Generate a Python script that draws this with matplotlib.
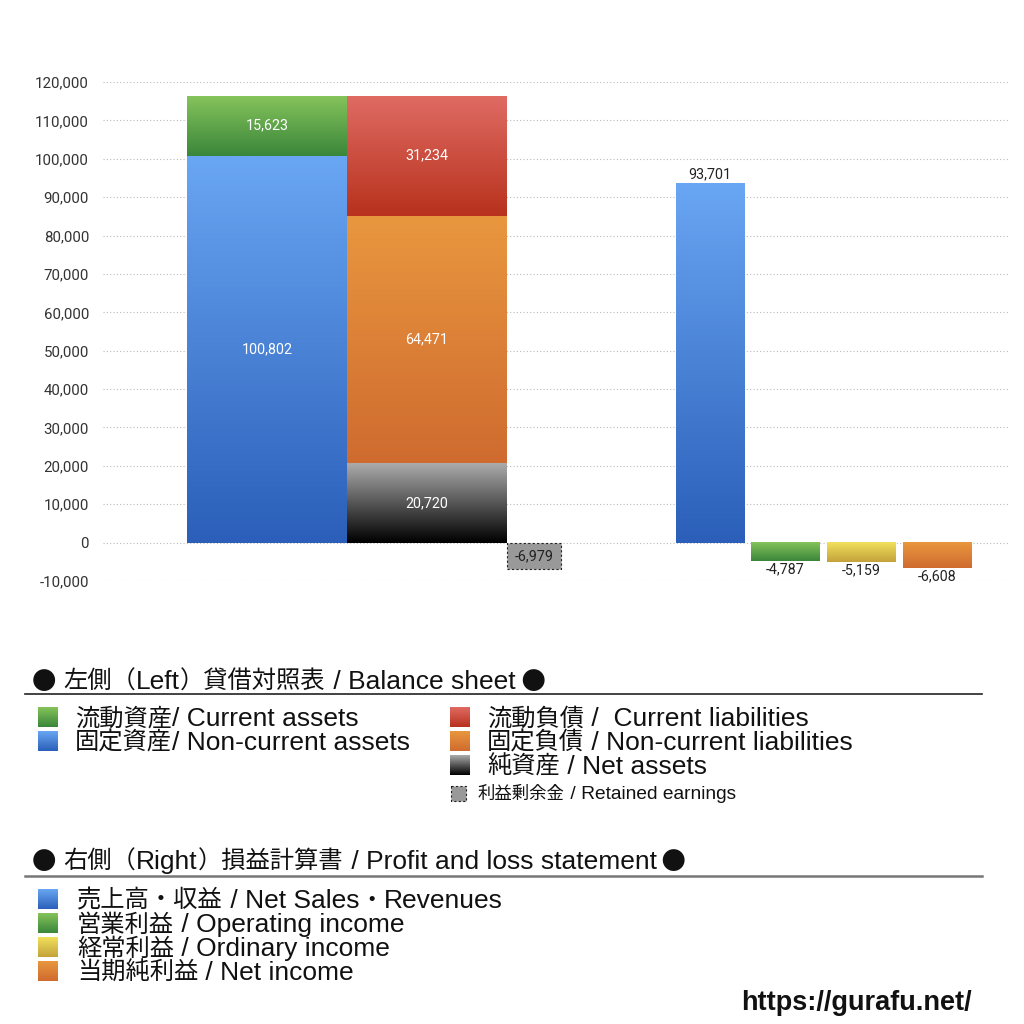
import numpy as np
import matplotlib.pyplot as plt
from matplotlib.colors import to_rgb
from matplotlib.patches import Rectangle

plt.rcParams['font.family'] = ['Liberation Sans', 'Noto Sans CJK JP', 'DejaVu Sans']

# 左側 貸借対照表 / balance sheet
current_assets = 15623
noncurrent_assets = 100802
current_liabilities = 31234
noncurrent_liabilities = 64471
net_assets = 20720
retained_earnings = -6979

# 右側 損益計算書 / profit and loss
pl_values = [93701, -4787, -5159, -6608]

bs_left_labels = ["流動資産/ Current assets", "固定資産/ Non-current assets"]
bs_right_labels = ["流動負債 /  Current liabilities", "固定負債 / Non-current liabilities",
                   "純資産 / Net assets"]
retained_label = "利益剰余金 / Retained earnings"
pl_labels = ["売上高・収益 / Net Sales・Revenues", "営業利益 / Operating income",
             "経常利益 / Ordinary income", "当期純利益 / Net income"]
head_bs = "● 左側（Left）貸借対照表 / Balance sheet ●"
head_pl = "● 右側（Right）損益計算書 / Profit and loss statement ●"

yticks = np.arange(-10000, 120001, 10000)

# colours (top, bottom) of the gradients
BLUE = ("#69a6f3", "#2b5fb9")
GREEN = ("#85c35b", "#3a863a")
RED = ("#df6b63", "#b8321d")
ORANGE = ("#e9973f", "#cf6b2f")
BLACK = ("#ababab", "#000000")
YELLOW = ("#f1e05c", "#c3a23b")
NUM_FONT = 'Roboto'


def grad_rect(ax, x0, x1, y0, y1, cols, z=3):
    c = np.linspace(0, 1, 128)[:, None, None]
    img = np.array(to_rgb(cols[1])) * (1 - c) + np.array(to_rgb(cols[0])) * c
    ax.imshow(img, extent=(x0, x1, y0, y1), origin='lower', aspect='auto',
              zorder=z, interpolation='bilinear')


fig = plt.figure(figsize=(10.24, 10.24), dpi=100)
ax = fig.add_axes([103 / 1024, 1 - 581 / 1024, 907 / 1024, 499 / 1024])
ax.set_xlim(0, 907)
ax.set_ylim(-10000, 120000)

# left stacked bars
w = 160
xa, xl = 164, 324
grad_rect(ax, xa - w / 2, xa + w / 2, 0, noncurrent_assets, BLUE)
grad_rect(ax, xa - w / 2, xa + w / 2, noncurrent_assets, noncurrent_assets + current_assets, GREEN)
grad_rect(ax, xl - w / 2, xl + w / 2, 0, net_assets, BLACK)
grad_rect(ax, xl - w / 2, xl + w / 2, net_assets, net_assets + noncurrent_liabilities, ORANGE)
top_l = net_assets + noncurrent_liabilities
grad_rect(ax, xl - w / 2, xl + w / 2, top_l, top_l + current_liabilities, RED)

lbl = dict(ha='center', va='center', color='white', fontsize=10.3, zorder=5, family=NUM_FONT)
ax.text(xa, noncurrent_assets / 2, f"{noncurrent_assets:,}", **lbl)
ax.text(xa, noncurrent_assets + current_assets / 2, f"{current_assets:,}", **lbl)
ax.text(xl, net_assets / 2, f"{net_assets:,}", **lbl)
ax.text(xl, net_assets + noncurrent_liabilities / 2, f"{noncurrent_liabilities:,}", **lbl)
ax.text(xl, top_l + current_liabilities / 2, f"{current_liabilities:,}", **lbl)

# retained earnings
xr, wr = 431, 54
ax.add_patch(Rectangle((xr - wr / 2, retained_earnings), wr, -retained_earnings,
                       facecolor="#999999", edgecolor="#222222", linestyle=(0, (2, 2)),
                       linewidth=0.8, zorder=4))
ax.text(xr, retained_earnings / 2, f"{retained_earnings:,}", ha='center', va='center',
        fontsize=10.3, color='#222222', zorder=5, family=NUM_FONT)

# right bars
pl_x = [607, 682.5, 758.5, 834.5]
pl_cols = [BLUE, GREEN, YELLOW, ORANGE]
wp = 69
for x, v, cols in zip(pl_x, pl_values, pl_cols):
    grad_rect(ax, x - wp / 2, x + wp / 2, min(0, v), max(0, v), cols)
    if v > 0:
        ax.text(x, v + 300, f"{v:,}", ha='center', va='bottom', fontsize=10.3,
                color='#222222', family=NUM_FONT)
    else:
        ax.text(x, v - 300, f"{v:,}", ha='center', va='top', fontsize=10.3,
                color='#222222', family=NUM_FONT)

ax.set_yticks(yticks)
ax.set_yticklabels([f"{t:,}" for t in yticks], fontsize=10.8, color='#333333',
                   family=NUM_FONT)
ax.set_xticks([])
ax.tick_params(axis='y', length=0, pad=10)
ax.grid(axis='y', color='#bbbbbb', linestyle=(0, (1, 2)), linewidth=0.8, zorder=0)
ax.set_axisbelow(True)
for s in ax.spines.values():
    s.set_visible(False)

# legend drawn in pixel coordinates on an overlay axes
ov = fig.add_axes([0, 0, 1, 1])
ov.axis('off')
ov.set_xlim(0, 1024)
ov.set_ylim(1024, 0)
renderer = fig.canvas.get_renderer()


def mixed_text(x, y, s, cjk_size, lat_size, **kw):
    # latin letters in a wider face, japanese in Noto, drawn run after run
    runs = []
    for ch in s:
        lat = ord(ch) < 128
        if runs and runs[-1][0] == lat:
            runs[-1][1] += ch
        else:
            runs.append([lat, ch])
    for i in range(len(runs) - 1):
        body = runs[i][1].rstrip(' ')
        n = len(runs[i][1]) - len(body)
        if n and body:
            runs[i][1] = body
            runs[i + 1][1] = ' ' * n + runs[i + 1][1]
    inv = ov.transData.inverted()
    for lat, txt in runs:
        t = ov.text(x, y, txt, family='Liberation Sans' if lat else 'Noto Sans CJK JP',
                    fontsize=lat_size if lat else cjk_size, va='baseline', ha='left',
                    color='#111111', **kw)
        bb = t.get_window_extent(renderer)
        x = inv.transform((bb.x1, bb.y0))[0]


CJ, LA = 17.5, 19
mixed_text(32, 689, head_bs, CJ, LA)
ov.plot([25, 982], [694, 694], color='#222222', linewidth=1.2)

for i, (lab, cols) in enumerate(zip(bs_left_labels, [GREEN, BLUE])):
    y = 717 + 24 * i
    grad_rect(ov, 38, 58, y + 10, y - 10, cols)
    mixed_text(75, y + 9, lab, CJ, LA)
for i, (lab, cols) in enumerate(zip(bs_right_labels, [RED, ORANGE, BLACK])):
    y = 717 + 24 * i
    grad_rect(ov, 450, 470, y + 10, y - 10, cols)
    mixed_text(487, y + 9, lab, CJ, LA)
ov.add_patch(Rectangle((451, 786), 15, 15, facecolor="#999999", edgecolor="#222222",
                       linestyle=(0, (2, 2)), linewidth=0.8))
mixed_text(478, 799, retained_label, 12.5, 13.8)

mixed_text(32, 869, head_pl, CJ, LA)
ov.plot([25, 982], [876, 876], color='#777777', linewidth=1.8)
for i, (lab, cols) in enumerate(zip(pl_labels, pl_cols)):
    y = 899 + 24 * i
    grad_rect(ov, 38, 58, y + 10, y - 10, cols)
    mixed_text(77, y + 9, lab, CJ, LA)

ov.text(972, 1003, "https://gurafu.net/", fontsize=19.5, fontweight='bold',
        va='center', ha='right', color='#111111')

fig.savefig("out.png", dpi=100, facecolor='white')
